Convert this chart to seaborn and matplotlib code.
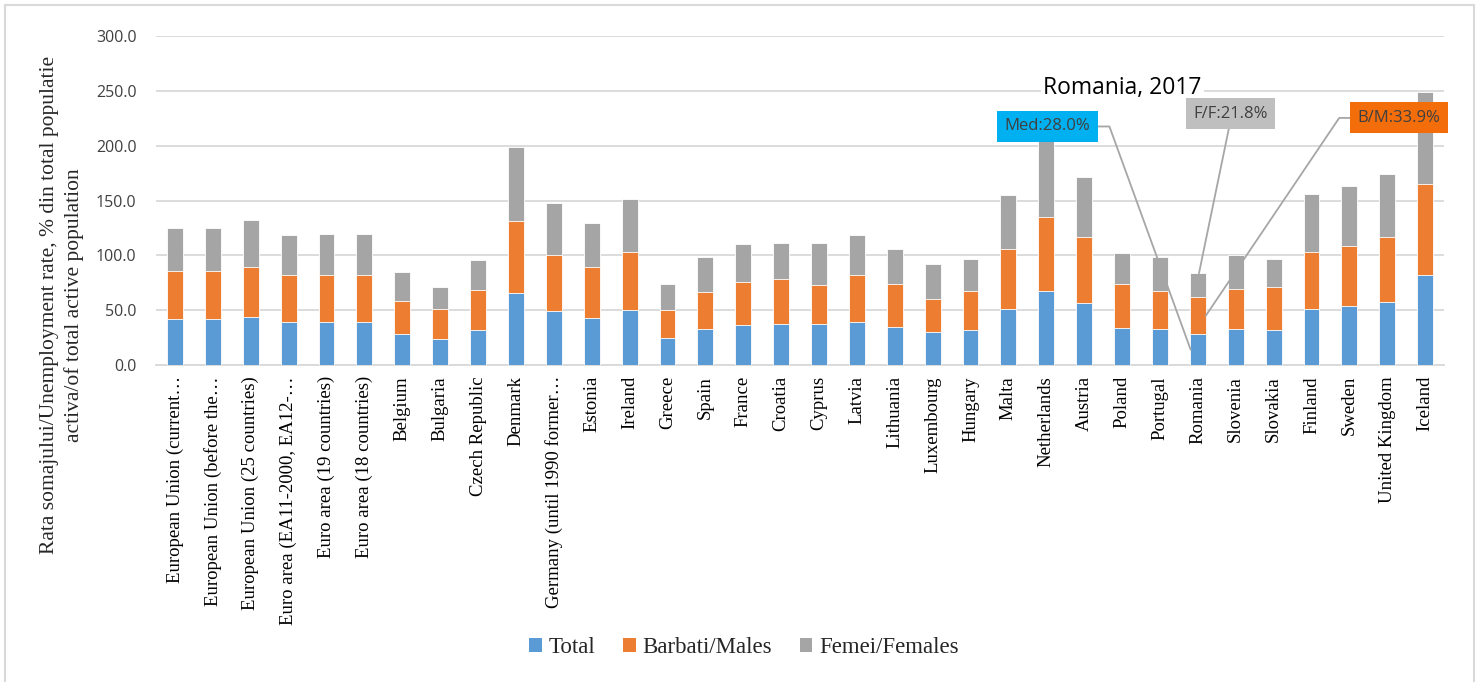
import numpy as np
import pandas as pd
import seaborn as sns
import matplotlib
matplotlib.use('Agg')
import matplotlib.pyplot as plt
from matplotlib.patches import Patch, Rectangle

# data
countries = [
    'European Union (current…', 'European Union (before the…', 'European Union (25 countries)',
    'Euro area (EA11-2000, EA12-…', 'Euro area (19 countries)', 'Euro area (18 countries)',
    'Belgium', 'Bulgaria', 'Czech Republic', 'Denmark', 'Germany (until 1990 former…',
    'Estonia', 'Ireland', 'Greece', 'Spain', 'France', 'Croatia', 'Cyprus', 'Latvia',
    'Lithuania', 'Luxembourg', 'Hungary', 'Malta', 'Netherlands', 'Austria', 'Poland',
    'Portugal', 'Romania', 'Slovenia', 'Slovakia', 'Finland', 'Sweden', 'United Kingdom', 'Iceland',
]
total = [41.5, 41.5, 43.6, 39.4, 39.4, 39.4, 28.2, 23.6, 31.8, 65.8, 49.1,
         43.3, 50.3, 24.2, 32.7, 36.4, 37.0, 37.0, 39.4, 34.8, 30.3, 32.1, 51.2,
         67.6, 56.7, 33.9, 32.4, 28.0, 33.0, 31.8, 51.5, 54.2, 57.9, 82.1]
males = [44.0, 44.0, 45.8, 42.4, 42.4, 42.4, 30.6, 27.9, 37.0, 65.1, 50.9,
         46.1, 52.7, 26.4, 34.3, 39.7, 41.8, 35.7, 43.0, 38.8, 30.3, 35.8, 54.6,
         67.2, 60.0, 39.7, 35.2, 33.9, 36.7, 39.7, 51.2, 54.6, 59.1, 83.1]
females = [39.0, 39.0, 42.4, 37.0, 37.3, 37.3, 26.4, 20.0, 27.0, 67.6, 47.6,
           40.0, 48.2, 23.0, 31.8, 34.2, 32.4, 38.5, 36.4, 32.2, 31.2, 28.5, 49.0,
           70.0, 54.8, 28.8, 30.9, 21.8, 30.9, 24.9, 53.4, 54.8, 57.5, 83.3]
series_names = ['Total', 'Barbati/Males', 'Femei/Females']
yticks = [0, 50, 100, 150, 200, 250, 300]
highlight = 'Romania'

c_total = '#5B9BD5'
c_males = '#ED7D31'
c_females = '#A5A5A5'

df = pd.DataFrame({'country': countries, 'total': total, 'males': males, 'females': females})
df['tm'] = df['total'] + df['males']
df['all'] = df['tm'] + df['females']

sns.set_style('white')
plt.rcParams['font.family'] = ['Open Sans', 'DejaVu Sans']

fig = plt.figure(figsize=(14.79, 6.82), dpi=100)
ax = fig.add_axes([0.1055, 0.4648, 0.8709, 0.4824])

# stacked bars drawn as cumulative overlays
for col, colr in [('all', c_females), ('tm', c_males), ('total', c_total)]:
    sns.barplot(data=df, x='country', y=col, color=colr, saturation=1, width=0.42,
                errorbar=None, edgecolor='white', linewidth=0.6, ax=ax, zorder=3)

ax.set_xlim(-0.5, len(countries) - 0.5)
ax.set_ylim(0, 300)
ax.set_yticks(yticks)
ax.set_yticklabels(['%.1f' % v for v in yticks], fontsize=11.5, color='#404040')
ax.set_xticks(range(len(countries)))
ax.set_xticklabels(countries, rotation=90, fontsize=13.5, family='Liberation Serif', color='#000000')
ax.tick_params(axis='x', length=0, pad=8)
ax.tick_params(axis='y', length=0, pad=14)
ax.set_xlabel('')
ax.set_ylabel('')
ax.grid(axis='y', color='#D9D9D9', linewidth=1.3, zorder=0)
ax.set_axisbelow(True)
for s in ['top', 'right', 'left']:
    ax.spines[s].set_visible(False)
ax.spines['bottom'].set_color('#D9D9D9')
ax.spines['bottom'].set_linewidth(1.3)

fig.text(0.042, 0.553, 'Rata somajului/Unemployment rate, % din total populatie\nactiva/of total active population',
         rotation=90, ha='center', va='center', multialignment='center',
         fontsize=15.5, family='Liberation Serif', linespacing=1.35)

# title and callouts for Romania
ax.text(0.75, 0.842, 'Romania, 2017', transform=ax.transAxes, ha='center', va='center',
        fontsize=16.5, color='#000000',
        bbox=dict(boxstyle='square,pad=0.1', fc='white', ec='none'), zorder=6)

ri = countries.index(highlight)
t_r, m_r, f_r = total[ri], males[ri], females[ri]
line_kw = dict(arrowstyle='-', color='#A6A6A6', lw=1.3, shrinkA=0, shrinkB=0)
box_fs = 12

ax.annotate('Med:%.1f%%' % t_r, xy=(ri - 0.19, t_r / 2), xycoords='data',
            xytext=(0.692, 0.725), textcoords='axes fraction', ha='center', va='center',
            fontsize=box_fs, color='#404040',
            bbox=dict(boxstyle='square,pad=0.45', fc='#00B0F0', ec='none'),
            arrowprops=dict(connectionstyle='angle,angleA=0,angleB=110,rad=0',
                            relpos=(1, 0.5), **line_kw), zorder=7)
ax.annotate('F/F:%.1f%%' % f_r, xy=(ri + 0.03, t_r + m_r + f_r), xycoords='data',
            xytext=(0.834, 0.764), textcoords='axes fraction', ha='center', va='center',
            fontsize=box_fs, color='#404040',
            bbox=dict(boxstyle='square,pad=0.45', fc='#BFBFBF', ec='none'),
            arrowprops=dict(relpos=(0.5, 0), **line_kw), zorder=7)
ax.annotate('B/M:%.1f%%' % m_r, xy=(ri + 0.21, t_r + m_r / 2), xycoords='data',
            xytext=(0.965, 0.751), textcoords='axes fraction', ha='center', va='center',
            fontsize=box_fs, color='#404040',
            bbox=dict(boxstyle='square,pad=0.45', fc='#F36D0A', ec='none'),
            arrowprops=dict(connectionstyle='angle,angleA=0,angleB=56,rad=0',
                            relpos=(0, 0.5), **line_kw), zorder=7)

handles = [Patch(facecolor=c, edgecolor='none') for c in [c_total, c_males, c_females]]
fig.legend(handles, series_names, loc='center', bbox_to_anchor=(0.503, 0.051), ncol=3,
           frameon=False, prop={'family': 'Liberation Serif', 'size': 16.5},
           handlelength=0.55, handleheight=0.55, handletextpad=0.3, columnspacing=1.2)

# light outer border
fig.patches.append(Rectangle((5 / 1479, -0.02), 1469 / 1479, 1.02 - 5 / 682, transform=fig.transFigure,
                             fill=False, edgecolor='#D9D9D9', linewidth=1.5))

fig.savefig('out.png', dpi=100)
